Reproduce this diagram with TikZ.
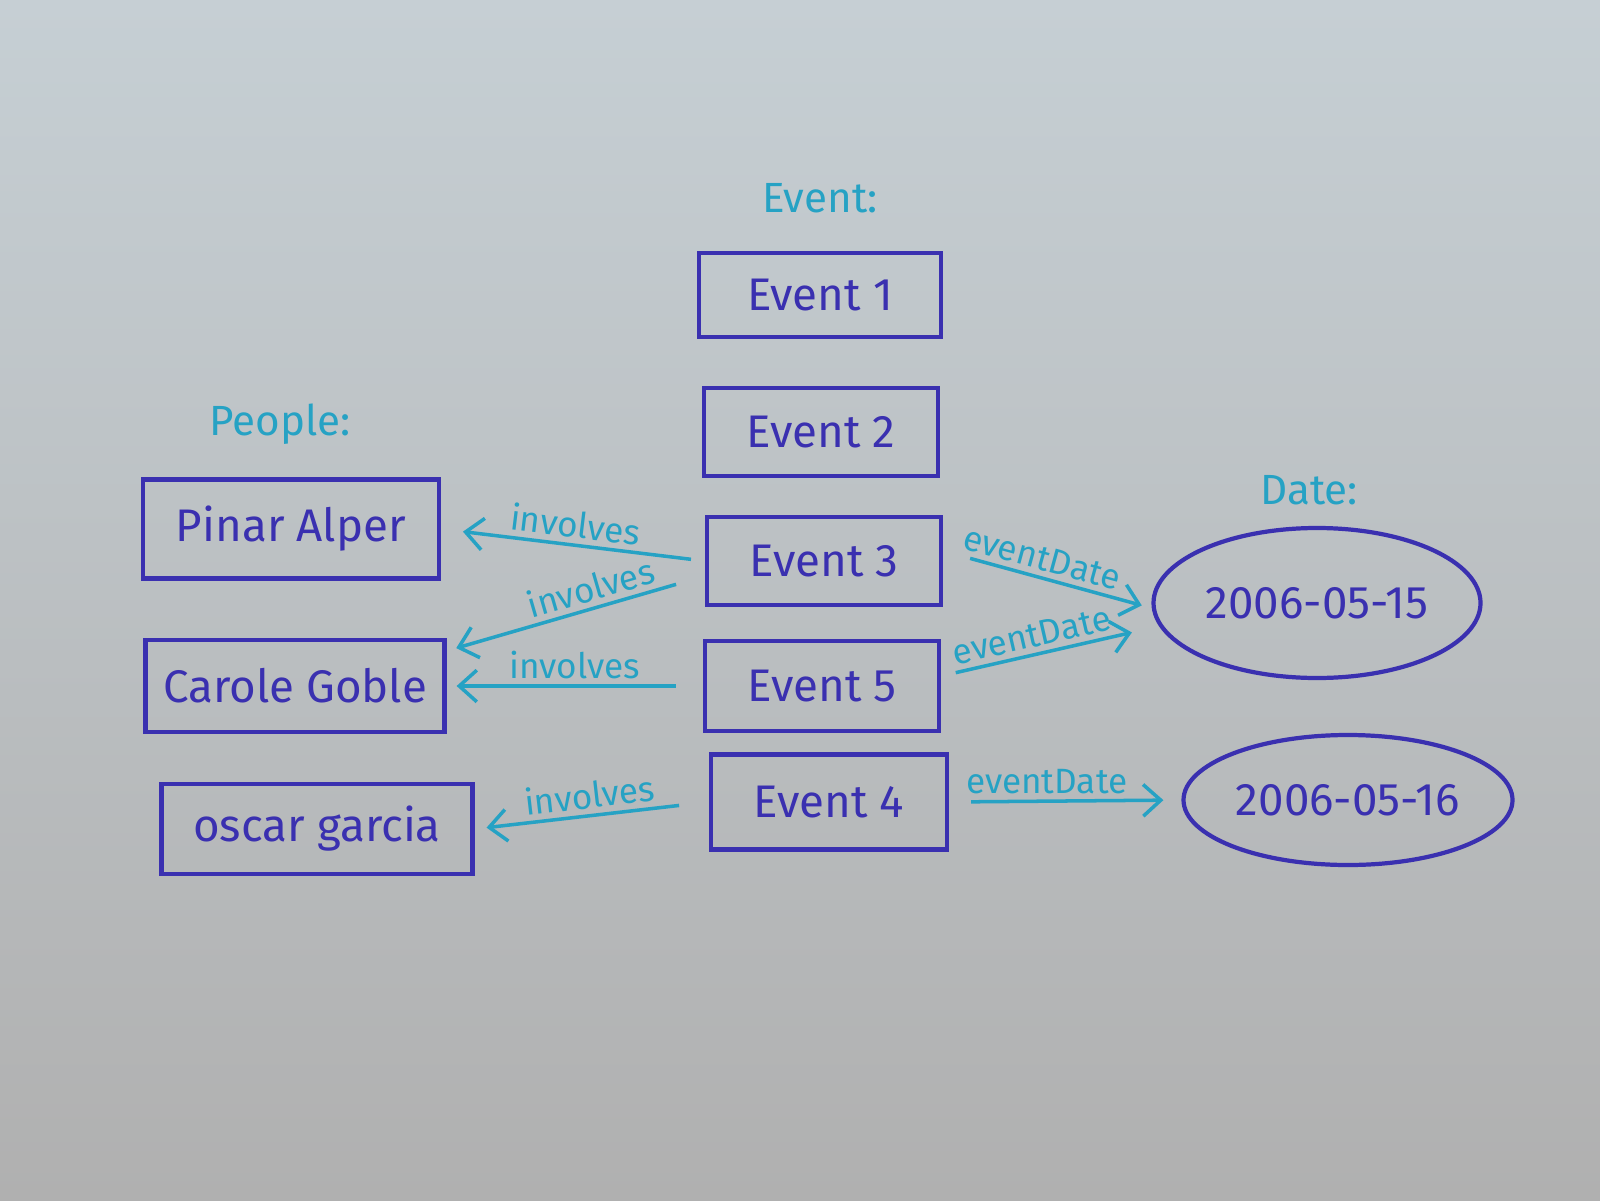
\documentclass[tikz,border=0pt]{standalone}
\usepackage{fontspec}
\setmainfont{Fira Sans}
\usepackage{tikz}
\usetikzlibrary{arrows.meta,positioning,calc,shapes.geometric}
\definecolor{pen}{RGB}{58,48,176}
\definecolor{teal}{RGB}{38,162,196}
\definecolor{paperT}{RGB}{198,207,212}
\definecolor{paperM}{RGB}{236,238,240}
\definecolor{paperB}{RGB}{176,176,176}
\tikzset{
  evt/.style   ={draw=pen,line width=1.2pt,text=pen,font=\fontsize{13}{15}\selectfont,minimum width=23.4mm,minimum height=8.8mm},
  who/.style   ={draw=pen,line width=1.2pt,text=pen,font=\fontsize{13}{15}\selectfont,minimum height=9.4mm},
  day/.style   ={ellipse,draw=pen,line width=1.2pt,text=pen,font=\fontsize{13}{15}\selectfont,inner sep=0pt},
  ar/.style    ={-{Straight Barb[length=5pt,width=9pt]},teal,line width=1pt},
  lbl/.style   ={font=\fontsize{10}{12}\selectfont,text=teal,inner sep=1.5pt},
  head/.style  ={font=\fontsize{12}{14}\selectfont,text=teal},
}
\begin{document}
\begin{tikzpicture}
  \shade[top color=paperT,middle color=paperM,bottom color=paperB] (0,0) rectangle (16,12);
  \useasboundingbox (0,0) rectangle (16,12);
  % events
  \node[evt,minimum width=24.2mm,minimum height=8.4mm] (e1) at (8.20,9.05) {Event 1};
  \node[evt] (e2) at (8.21,7.68) {Event 2};
  \node[evt] (e3) at (8.24,6.39) {Event 3};
  \node[evt,minimum height=9mm] (e5) at (8.22,5.14) {Event 5};
  \node[evt,minimum width=23.6mm,minimum height=9.5mm] (e4) at (8.29,3.98) {Event 4};
  \node[head] (hevt) [above=2.5mm of e1] {Event:};
  % people
  \node[who,minimum width=29.6mm,minimum height=9.9mm] (pinar) at (2.91,6.71) {Pinar Alper};
  \node[who,minimum width=29.9mm,minimum height=9.2mm] (carole) at (2.95,5.14) {Carole Goble};
  \node[who,minimum width=31.1mm,minimum height=9mm] (oscar) at (3.17,3.71) {oscar garcia};
  \node[head] (hppl) at (2.80,7.76) {People:};
  % dates
  \node[day,minimum width=32.7mm,minimum height=15mm] (d15) at (13.17,5.97) {2006-05-15};
  \node[day,minimum width=32.9mm,minimum height=13mm] (d16) at (13.48,4.00) {2006-05-16};
  \node[head] (hdate) at (13.09,7.10) {Date:};
  % involves
  \draw[ar,shorten <=1.4mm,shorten >=2.2mm] (e3.west) -- node[lbl,above,sloped]{involves} (pinar.east);
  \draw[ar,shorten <=3mm,shorten >=1mm] ([yshift=-1.5mm]e3.west) -- node[lbl,above,sloped,pos=0.42]{involves} ([yshift=-1.3mm]carole.north east);
  \draw[ar,shorten <=2.7mm,shorten >=1mm] (e5.west) -- node[lbl,above]{involves} (carole.east);
  \draw[ar,shorten <=3mm,shorten >=1.2mm] (e4.west) -- node[lbl,above,sloped]{involves} (oscar.east);
  % eventDate
  \draw[ar,shorten <=2.8mm,shorten >=1mm] ([yshift=1mm]e3.east) -- node[lbl,above,sloped,pos=0.45]{eventDate} ([yshift=-0.5mm]d15.west);
  \draw[ar,shorten <=1.5mm,shorten >=2mm] ([yshift=1mm]e5.east) -- node[lbl,above,sloped,pos=0.45]{eventDate} ([yshift=-2.5mm]d15.west);
  \draw[ar,shorten <=2.2mm,shorten >=1.8mm] (e4.east) -- node[lbl,above,pos=0.42]{eventDate} (d16.west);
\end{tikzpicture}
\end{document}
